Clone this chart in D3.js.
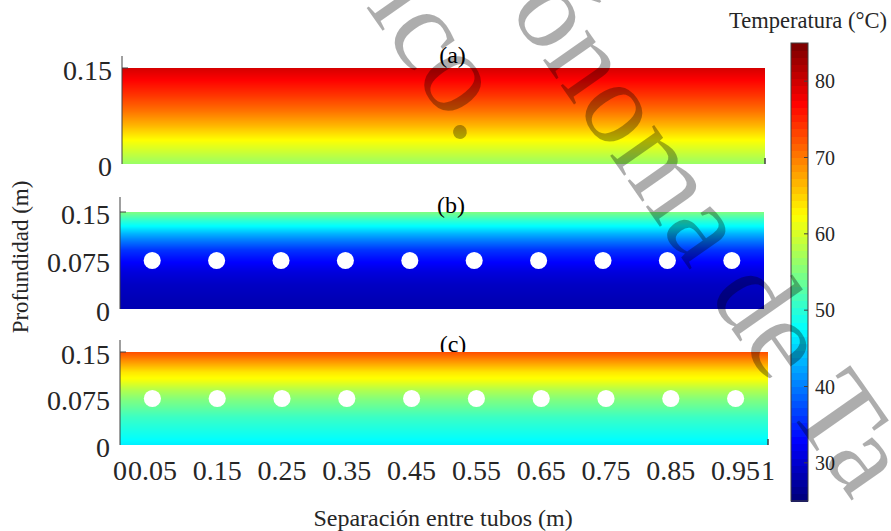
<!DOCTYPE html>
<html><head><meta charset="utf-8">
<script src="https://cdn.jsdelivr.net/npm/d3@7"></script>
<style>html,body{margin:0;padding:0;background:#fff;}svg{display:block;}</style>
</head><body>
<svg id="chart" width="891" height="531"></svg>
<script>
// ---------------- data ----------------
const xTicks = [0, 0.05, 0.15, 0.25, 0.35, 0.45, 0.55, 0.65, 0.75, 0.85, 0.95, 1];
const tubeX = [0.05, 0.15, 0.25, 0.35, 0.45, 0.55, 0.65, 0.75, 0.85, 0.95];
const tubeDepth = 0.075;
const yTicksA = [0, 0.15];
const yTicksBC = [0, 0.075, 0.15];
const cbTicks = [30, 40, 50, 60, 70, 80];
const cbDomain = [25, 85];
// vertical temperature profiles (depth m -> °C)
const depthA = [0, 0.022, 0.0375, 0.061, 0.084, 0.108, 0.131, 0.15];
const tempA  = [56.5, 60, 62.5, 67, 71, 74.5, 77.5, 80];
const depthB = [0, 0.0139, 0.0371, 0.0572, 0.0758, 0.0912, 0.1067, 0.116, 0.1268, 0.1376, 0.15];
const tempB  = [28, 28.2, 29, 30.5, 33, 35.5, 40, 43, 47, 50.5, 55];
const depthC = [0, 0.013, 0.045, 0.0726, 0.0887, 0.105, 0.1177, 0.132, 0.15];
const tempC  = [46.6, 48, 51, 55, 58, 62, 64, 68, 73];
const panelLabels = ["(a)", "(b)", "(c)"];

// ---------------- helpers ----------------
const svg = d3.select("#chart");
const FONT = "'Liberation Serif','Times New Roman',serif";
const TXT = "#262626";
function jet(t){
  const c = v => Math.max(0, Math.min(1, v));
  return d3.rgb(255*c(1.5-Math.abs(4*t-3)), 255*c(1.5-Math.abs(4*t-2)), 255*c(1.5-Math.abs(4*t-1))).formatHex();
}
const tScale = d3.scaleLinear().domain(cbDomain).range([0,1]).clamp(true);
const color = v => jet(tScale(v));
const tubeDiam = 0.0265;

const panels = [
  {label: panelLabels[0], depth: depthA, temp: tempA, x0:122, x1:765, yTop:68, yBot:164, axTop:56, ticks:yTicksA, tubes:false, labelY:63, labelOnTop:true, endTick:true},
  {label: panelLabels[1], depth: depthB, temp: tempB, x0:120, x1:764, yTop:212, yBot:309, axTop:197, ticks:yTicksBC, tubes:true, labelY:213, labelOnTop:true, endTick:false},
  {label: panelLabels[2], depth: depthC, temp: tempC, x0:120, x1:768, yTop:352, yBot:445, axTop:340, ticks:yTicksBC, tubes:true, labelY:352, labelOnTop:false, endTick:true}
];

let lastX = null;
panels.forEach(p => {
  const x = d3.scaleLinear().domain([0,1]).range([p.x0, p.x1]);
  const y = d3.scaleLinear().domain([0,0.15]).range([p.yBot, p.yTop]);
  const prof = d3.scaleLinear().domain(p.depth).range(p.temp).clamp(true);
  const g = svg.append("g");
  const lab = () => g.append("text").attr("x", x(0.5)+9).attr("y", p.labelY)
      .attr("text-anchor","middle").attr("font-family",FONT).attr("font-size",24).attr("fill","#000").text(p.label);
  if(!p.labelOnTop) lab();
  // heatmap rows
  const rows = d3.range(Math.round(p.yTop), Math.round(p.yBot));
  g.append("g").selectAll("rect").data(rows).join("rect")
    .attr("x", x(0)).attr("width", x(1)-x(0))
    .attr("y", d => d).attr("height", 1.05)
    .attr("fill", d => color(prof(y.invert(d+0.5))))
    .attr("shape-rendering","crispEdges");
  // tubes
  if(p.tubes){
    const r = (x(tubeDiam)-x(0))/2;
    g.append("g").selectAll("circle").data(tubeX).join("circle")
      .attr("cx", d => x(d)).attr("cy", y(tubeDepth)).attr("r", r).attr("fill","#fff");
  }
  // y axis line + ticks
  g.append("line").attr("x1", x(0)).attr("x2", x(0)).attr("y1", p.axTop).attr("y2", p.yBot)
    .attr("stroke","#404040").attr("stroke-width",1);
  g.append("line").attr("x1", x(0)).attr("x2", x(0)+6).attr("y1", y(0.15)).attr("y2", y(0.15))
    .attr("stroke","#404040").attr("stroke-width",1);
  if(p.endTick){
    g.append("line").attr("x1", x(1)).attr("x2", x(1)).attr("y1", p.yBot).attr("y2", p.yBot-6)
      .attr("stroke","#404040").attr("stroke-width",1.5);
  }
  g.append("g").selectAll("text").data(p.ticks).join("text")
    .attr("x", x(0)-10).attr("y", d => y(d)+2).attr("dy","0.35em")
    .attr("text-anchor","end").attr("font-family",FONT).attr("font-size",28).attr("fill",TXT)
    .text(d => d === 0 ? "0" : d);
  if(p.labelOnTop) lab();
  lastX = x;
});

// x tick labels (bottom panel)
svg.append("g").selectAll("text").data(xTicks).join("text")
  .attr("x", d => lastX(d)).attr("y", 480)
  .attr("text-anchor","middle").attr("font-family",FONT).attr("font-size",28).attr("fill",TXT)
  .text(d => d === 0 ? "0" : d === 1 ? "1" : d);

// axis titles
svg.append("text").attr("x", 443).attr("y", 526).attr("text-anchor","middle")
  .attr("font-family",FONT).attr("font-size",24).attr("fill",TXT).text("Separación entre tubos (m)");
svg.append("text").attr("transform","translate(28,257) rotate(-90)").attr("text-anchor","middle")
  .attr("font-family",FONT).attr("font-size",23).attr("fill",TXT).text("Profundidad (m)");

// colorbar
const cbX = 791, cbW = 17;
const cbY = d3.scaleLinear().domain(cbDomain).range([501, 43]);
const nBands = 64;
const bandW = (cbDomain[1]-cbDomain[0])/nBands;
const bands = d3.range(nBands).map(i => cbDomain[0] + i*bandW);
svg.append("g").selectAll("rect").data(bands).join("rect")
  .attr("x", cbX).attr("width", cbW)
  .attr("y", d => cbY(d+bandW)).attr("height", d => cbY(d)-cbY(d+bandW)+0.5)
  .attr("fill", (d,i) => jet(i/(nBands-1)))
  .attr("shape-rendering","crispEdges");
svg.append("rect").attr("x", cbX).attr("y", cbY(cbDomain[1])).attr("width", cbW)
  .attr("height", cbY(cbDomain[0])-cbY(cbDomain[1])).attr("fill","none").attr("stroke","#404040").attr("stroke-width",1);
svg.append("g").selectAll("line").data(cbTicks).join("line")
  .attr("x1", cbX+cbW).attr("x2", cbX+cbW-4).attr("y1", d => cbY(d)).attr("y2", d => cbY(d))
  .attr("stroke","#404040");
svg.append("g").selectAll("text").data(cbTicks).join("text")
  .attr("x", cbX+cbW+7).attr("y", d => cbY(d)).attr("dy","0.35em")
  .attr("font-family",FONT).attr("font-size",20).attr("fill",TXT).text(d => d);
svg.append("text").attr("x", 808).attr("y", 28).attr("text-anchor","middle")
  .attr("font-family",FONT).attr("font-size",22.5).attr("fill",TXT).text("Temperatura (°C)");

// watermark
const wm = svg.append("g").attr("font-family",FONT).attr("font-size",117).attr("fill","#000").attr("fill-opacity",0.32);
wm.append("text").attr("transform","translate(464,147) rotate(55)").attr("text-anchor","end").text("ico.");
wm.append("text").attr("transform","translate(508,10) rotate(55)").attr("text-anchor","start").text("ónoma de Ta");
</script>
</body></html>
